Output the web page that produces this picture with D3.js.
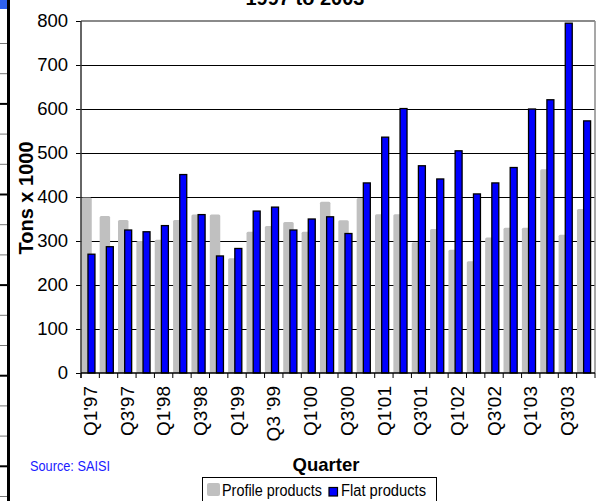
<!DOCTYPE html>
<html>
<head>
<meta charset="utf-8">
<script src="https://cdn.jsdelivr.net/npm/d3@7"></script>
<style>
  body { margin: 0; background: #fff; }
  svg { display: block; font-family: "Liberation Sans", Arial, sans-serif; }
</style>
</head>
<body>
<script>
// quarterly tonnage
const quarters = ["Q1'97", "Q2'97", "Q3'97", "Q4'97", "Q1'98", "Q2'98", "Q3'98", "Q4'98",
  "Q1'99", "Q2'99", "Q3 '99", "Q4'99", "Q1'00", "Q2'00", "Q3'00", "Q4'00",
  "Q1'01", "Q2'01", "Q3'01", "Q4'01", "Q1'02", "Q2'02", "Q3'02", "Q4'02",
  "Q1'03", "Q2'03", "Q3'03", "Q4'03"]
const profile = [399, 357, 348, 300, 303, 348, 360, 360, 261, 321, 334, 343, 321, 389,
  347, 398, 361, 361, 297, 327, 280, 254, 308, 330, 330, 463, 314, 373]
const flat = [270, 287, 325, 321, 335, 451, 360, 266, 283, 368, 377, 325, 350, 355,
  317, 432, 536, 601, 471, 441, 505, 407, 432, 467, 600, 621, 795, 573]
const yTicks = [0, 100, 200, 300, 400, 500, 600, 700, 800]
const seriesNames = ['Profile products', 'Flat products']

const W = 597, H = 501
const plot = { left: 81, right: 595, top: 21, bottom: 373 }

const svg = d3.select('body').append('svg')
  .attr('width', W)
  .attr('height', H)

// spreadsheet edge visible at the left of the screenshot
svg.append('rect').attr('x', 0).attr('y', 0).attr('width', 7).attr('height', 9).attr('fill', '#2f62ee')
svg.selectAll('.cell')
    .data(d3.range(16))
  .enter().append('line')
    .attr('x1', 0).attr('x2', 8)
    .attr('y1', i => 43.5 + i * 30.2).attr('y2', i => 43.5 + i * 30.2)
    .attr('stroke', (i) => i % 3 === 2 ? '#000' : '#777')
    .attr('stroke-width', i => i % 3 === 2 ? 2 : 1)
svg.append('line').attr('x1', 8.5).attr('x2', 8.5).attr('y1', 0).attr('y2', H)
  .attr('stroke', '#000').attr('stroke-width', 3)

const x = d3.scaleBand()
  .domain(quarters)
  .range([plot.left, plot.right])

const y = d3.scaleLinear()
  .domain([0, 800])
  .range([plot.bottom, plot.top])

// gridlines
svg.append('g')
  .selectAll('line')
  .data(yTicks.filter(d => d > 0))
  .enter().append('line')
    .attr('x1', plot.left).attr('x2', plot.right)
    .attr('y1', d => y(d)).attr('y2', d => y(d))
    .attr('stroke', d => d === 800 ? '#8a8a8a' : '#000')
    .attr('stroke-width', d => d === 800 ? 1.5 : 1)
    .attr('shape-rendering', 'crispEdges')

svg.append('line')
  .attr('x1', plot.right).attr('x2', plot.right)
  .attr('y1', plot.top).attr('y2', plot.bottom)
  .attr('stroke', '#8a8a8a').attr('stroke-width', 1.5)

const bw = x.bandwidth()

svg.append('g').selectAll('rect')
    .data(profile)
  .enter().append('rect')
    .attr('x', (d, i) => x(quarters[i]) + 0.3)
    .attr('y', d => y(d))
    .attr('width', bw * 0.57)
    .attr('height', d => y(0) - y(d))
    .attr('rx', 1.5)
    .attr('fill', '#c0c0c0')

svg.append('g').selectAll('rect')
    .data(flat)
  .enter().append('rect')
    .attr('x', (d, i) => x(quarters[i]) + bw * 0.38)
    .attr('y', d => y(d))
    .attr('width', bw * 0.38)
    .attr('height', d => y(0) - y(d))
    .attr('fill', '#0000ff')
    .attr('stroke', '#000')
    .attr('stroke-width', 1.3)

// y axis
const yAxis = svg.append('g')
  .attr('transform', `translate(${plot.left},0)`)
  .call(d3.axisLeft(y).tickValues(yTicks).tickSize(5).tickPadding(8))
yAxis.select('.domain').remove()
yAxis.selectAll('.tick line').attr('stroke', '#000')
yAxis.selectAll('.tick text')
  .attr('font-size', 18.5)
  .attr('fill', '#000')
  .attr('font-family', '"Liberation Sans", Arial, sans-serif')
svg.append('line')
  .attr('x1', plot.left).attr('x2', plot.left)
  .attr('y1', plot.top).attr('y2', plot.bottom + 5)
  .attr('stroke', '#333').attr('stroke-width', 1.5)

// x axis
svg.append('line')
  .attr('x1', plot.left).attr('x2', plot.right)
  .attr('y1', plot.bottom).attr('y2', plot.bottom)
  .attr('stroke', '#000').attr('stroke-width', 1.3)
svg.append('g').selectAll('line')
    .data(quarters.concat(['end']))
  .enter().append('line')
    .attr('x1', d => d === 'end' ? plot.right : x(d))
    .attr('x2', d => d === 'end' ? plot.right : x(d))
    .attr('y1', plot.bottom).attr('y2', plot.bottom + 5)
    .attr('stroke', '#000')

svg.append('g').selectAll('text')
    .data(quarters.filter((d, i) => i % 2 === 0))
  .enter().append('text')
    .attr('transform', d => `translate(${x(d) + bw / 2},386) rotate(-90)`)
    .attr('text-anchor', 'end')
    .attr('dy', '0.35em')
    .attr('font-size', 19)
    .text(d => d)

// titles
svg.append('text')
  .attr('x', 305).attr('y', 5)
  .attr('text-anchor', 'middle')
  .attr('font-size', 20).attr('font-weight', 'bold')
  .text('1997 to 2003')

svg.append('text')
  .attr('transform', 'translate(33,198) rotate(-90)')
  .attr('text-anchor', 'middle')
  .attr('font-size', 20).attr('font-weight', 'bold')
  .text('Tons x 1000')

svg.append('text')
  .attr('x', 326).attr('y', 471)
  .attr('text-anchor', 'middle')
  .attr('font-size', 18.5).attr('font-weight', 'bold')
  .text('Quarter')

svg.append('text')
  .attr('x', 30).attr('y', 471)
  .attr('font-size', 14.5)
  .attr('fill', '#1a1aff')
  .attr('textLength', 80).attr('lengthAdjust', 'spacingAndGlyphs')
  .text('Source: SAISI')

// legend
const lg = svg.append('g')
lg.append('rect')
  .attr('x', 202.5).attr('y', 477.5).attr('width', 234).attr('height', 40)
  .attr('fill', '#fff').attr('stroke', '#000')
lg.append('rect')
  .attr('x', 207).attr('y', 483).attr('width', 13).attr('height', 13).attr('rx', 2)
  .attr('fill', '#c0c0c0')
lg.append('text')
  .attr('x', 222).attr('y', 496)
  .attr('font-size', 16)
  .attr('textLength', 100).attr('lengthAdjust', 'spacingAndGlyphs')
  .text(seriesNames[0])
lg.append('rect')
  .attr('x', 329).attr('y', 487.5).attr('width', 8.5).attr('height', 8.5)
  .attr('fill', '#0000ff').attr('stroke', '#000').attr('stroke-width', 1.2)
lg.append('text')
  .attr('x', 341).attr('y', 496)
  .attr('font-size', 16)
  .attr('textLength', 85).attr('lengthAdjust', 'spacingAndGlyphs')
  .text(seriesNames[1])
</script>
</body>
</html>
